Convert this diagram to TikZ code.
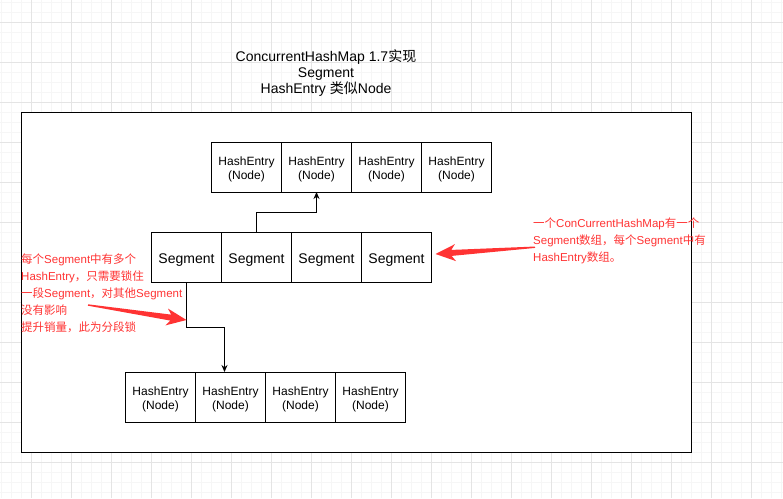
\documentclass[tikz,border=0pt]{standalone}
\usepackage{fontspec}
\setmainfont{Liberation Sans}
\newfontfamily\cjk{Noto Sans CJK SC}
\usetikzlibrary{arrows.meta,calc,positioning}
\definecolor{gridmajor}{RGB}{228,228,228}
\definecolor{gridminor}{RGB}{246,246,246}
\definecolor{notered}{RGB}{255,51,51}
\newcommand{\zh}[1]{{\cjk #1}}
\newcommand{\entrytext}{\raisebox{-3pt}[\height][\depth]{\begin{tabular}{@{}c@{}}HashEntry\\(Node)\end{tabular}}}
% red tapered pointer from #1 to #2
\newcommand{\fatarrow}[2]{%
\coordinate (fb) at ($(#2)!16pt!(#1)$);
\coordinate (fw) at ($(#2)!20pt!(#1)$);
\fill[notered] ($(#1)!0.7pt!90:(#2)$) -- ($(fb)!3pt!90:(#2)$) -- ($(fw)!8.5pt!90:(#2)$) -- (#2)
  -- ($(fw)!8.5pt!-90:(#2)$) -- ($(fb)!3pt!-90:(#2)$) -- ($(#1)!0.7pt!-90:(#2)$) -- cycle;}

\begin{document}
\begin{tikzpicture}[x=1pt,y=-1pt,node distance=70pt,
  cell/.style={draw,line width=1pt,fill=white,minimum width=70pt,minimum height=50pt,inner sep=0pt,outer sep=0pt,font=\fontsize{12}{14}\selectfont},
  seg/.style={cell,font=\fontsize{14}{16}\selectfont,execute at begin node=\rule{0pt}{16pt}},
  link/.style={line width=1pt,-{Stealth[length=7pt,width=6pt]}},
  note/.style={text=notered,align=left,inner sep=0pt,anchor=north west,font=\fontsize{11.5}{17}\selectfont}]
\useasboundingbox (0,0) rectangle (783,498);
% background grid
\foreach \x in {1.5,11.5,...,781.5} \draw[gridminor,line width=1pt] (\x,0) -- (\x,498);
\foreach \y in {2.5,12.5,...,492.5} \draw[gridminor,line width=1pt] (0,\y) -- (783,\y);
\foreach \x in {31.5,71.5,...,751.5} \draw[gridmajor,line width=1pt] (\x,0) -- (\x,498);
\foreach \y in {22.5,62.5,...,462.5} \draw[gridmajor,line width=1pt] (0,\y) -- (783,\y);
\draw[line width=1pt,fill=white] (21.5,112.5) rectangle (691,452);

\node (title) at (326,73) [align=center,font=\fontsize{14}{16}\selectfont] {ConcurrentHashMap 1.7\zh{实现}\\Segment\\HashEntry \zh{类似}Node};

\node (A1) at (246.5,167) [cell] {\entrytext};
\node (A2) [cell,right of=A1] {\entrytext};
\node (A3) [cell,right of=A2] {\entrytext};
\node (A4) [cell,right of=A3] {\entrytext};

\node (S1) at (186.5,257) [seg] {Segment};
\node (S2) [seg,right of=S1] {Segment};
\node (S3) [seg,right of=S2] {Segment};
\node (S4) [seg,right of=S3] {Segment};

\node (B1) at (160.5,397) [cell] {\entrytext};
\node (B2) [cell,right of=B1] {\entrytext};
\node (B3) [cell,right of=B2] {\entrytext};
\node (B4) [cell,right of=B3] {\entrytext};

\draw[link] (S2.north) -- ++(0,-20) -| (A2.south);
\draw[link] (S1.south) -- ++(0,45) -| ([xshift=-6pt]B2.north);

\node (noteL) [note] at (21,254) {\zh{每个}Segment\zh{中有多个}\\HashEntry\zh{，只需要锁住}\\\zh{一段}Segment\zh{，对其他}Segment\\\zh{没有影响}\\\zh{提升销量，此为分段锁}};
\node (noteR) [note] at (533,218) {\zh{一个}ConCurrentHashMap\zh{有一个}\\Segment\zh{数组，每个}Segment\zh{中有}\\HashEntry\zh{数组。}};

\coordinate (tailR) at ([shift={(2,6)}]noteR.west);
\coordinate (tipR) at ([shift={(4,-3)}]S4.east);
\coordinate (tailL) at ([shift={(67,51)}]noteL.north west);
\coordinate (tipL) at ([shift={(0,38)}]S1.south);
\fatarrow{tailR}{tipR}
\fatarrow{tailL}{tipL}
\end{tikzpicture}
\end{document}
